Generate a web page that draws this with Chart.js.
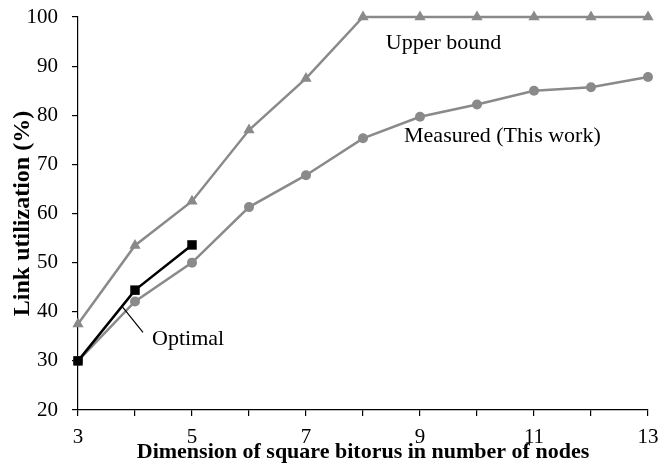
<!DOCTYPE html>
<html>
<head>
<meta charset="utf-8">
<script src="https://cdn.jsdelivr.net/npm/chart.js@4.4.1/dist/chart.umd.min.js"></script>
<style>
  body { margin: 0; background: #fff; }
  #wrap { width: 660px; height: 467px; }
</style>
</head>
<body>
<div id="wrap"><canvas id="chart" width="660" height="467"></canvas></div>
<script>
// dimension of the square bitorus (x values)
const dims = [3, 4, 5, 6, 7, 8, 9, 10, 11, 12, 13];
const dimsOptimal = [3, 4, 5];

// link utilization (%)
const upperBound = [37.5, 53.5, 62.5, 77, 87.5, 100, 100, 100, 100, 100, 100];
const measured = [30, 42.1, 50, 61.3, 67.8, 75.3, 79.7, 82.2, 85, 85.7, 87.8];
const optimal = [30, 44.4, 53.6];

const gray = "#8a8a8a";
const serif = "'Liberation Serif', 'Times New Roman', serif";

const toPoints = (xs, ys) => xs.map((x, i) => ({ x: x, y: ys[i] }));

// text labels drawn inside the plot
const notes = [
  { text: "Upper bound", x: 8.4, y: 94.6 },
  { text: "Measured (This work)", x: 8.72, y: 75.8 },
  { text: "Optimal", x: 4.3, y: 34.4 },
];

const notesPlugin = {
  id: "notes",
  afterDatasetsDraw(chart) {
    const { ctx, scales } = chart;
    const xs = scales.x, ys = scales.y;
    ctx.save();
    ctx.fillStyle = "#000";
    ctx.font = "22px " + serif;
    ctx.textBaseline = "middle";
    ctx.textAlign = "left";
    notes.forEach(n => ctx.fillText(n.text, xs.getPixelForValue(n.x), ys.getPixelForValue(n.y)));
    // leader line for "Optimal"
    ctx.strokeStyle = "#000";
    ctx.lineWidth = 1.2;
    ctx.beginPath();
    ctx.moveTo(xs.getPixelForValue(4.14), ys.getPixelForValue(35.8));
    ctx.lineTo(xs.getPixelForValue(3.78), ys.getPixelForValue(41.0));
    ctx.stroke();
    ctx.restore();
  }
};

new Chart(document.getElementById("chart"), {
  type: "line",
  plugins: [notesPlugin],
  data: {
    datasets: [
      {
        label: "Upper bound",
        data: toPoints(dims, upperBound),
        borderColor: gray,
        backgroundColor: gray,
        borderWidth: 2.5,
        pointStyle: "triangle",
        pointRadius: 6.5,
        pointBorderWidth: 0,
        clip: false,
        order: 2,
      },
      {
        label: "Measured (This work)",
        data: toPoints(dims, measured),
        borderColor: gray,
        backgroundColor: gray,
        borderWidth: 2.5,
        pointStyle: "circle",
        pointRadius: 5,
        pointBorderWidth: 0,
        clip: false,
        order: 1,
      },
      {
        label: "Optimal",
        data: toPoints(dimsOptimal, optimal),
        borderColor: "#000",
        backgroundColor: "#000",
        borderWidth: 2.5,
        pointStyle: "rect",
        pointRadius: 6.7,
        pointBorderWidth: 0,
        clip: false,
        order: 0,
      },
    ],
  },
  options: {
    responsive: false,
    animation: false,
    layout: { padding: { top: 17, right: 12, left: 0, bottom: 0 } },
    plugins: {
      legend: { display: false },
      tooltip: { enabled: false },
    },
    scales: {
      x: {
        type: "linear",
        min: 3,
        max: 13,
        afterFit: s => { s.height = 57; s.paddingLeft = 0; s.paddingRight = 0; },
        ticks: {
          stepSize: 1,
          autoSkip: false,
          maxRotation: 0,
          color: "#000",
          font: { family: serif, size: 21 },
          padding: 9,
          callback: v => (v % 2 === 1 ? String(v) : ""),
        },
        grid: { drawOnChartArea: false, tickLength: 6, color: "#000", lineWidth: 1.2 },
        border: { color: "#000", width: 1.2 },
        title: {
          display: true,
          text: "Dimension of square bitorus in number of nodes",
          color: "#000",
          font: { family: serif, size: 22, weight: "bold" },
          padding: { top: 0, bottom: 1 },
        },
      },
      y: {
        min: 20,
        max: 100,
        afterFit: s => { s.width = 78; s.paddingTop = 0; s.paddingBottom = 0; },
        ticks: {
          stepSize: 10,
          color: "#000",
          font: { family: serif, size: 21 },
          padding: 14,
        },
        grid: { drawOnChartArea: false, tickLength: 6, color: "#000", lineWidth: 1.2 },
        border: { color: "#000", width: 1.2 },
        title: {
          display: true,
          text: "Link utilization (%)",
          color: "#000",
          font: { family: serif, size: 24, weight: "bold" },
          padding: { top: 8, bottom: 0 },
        },
      },
    },
  },
});
</script>
</body>
</html>
